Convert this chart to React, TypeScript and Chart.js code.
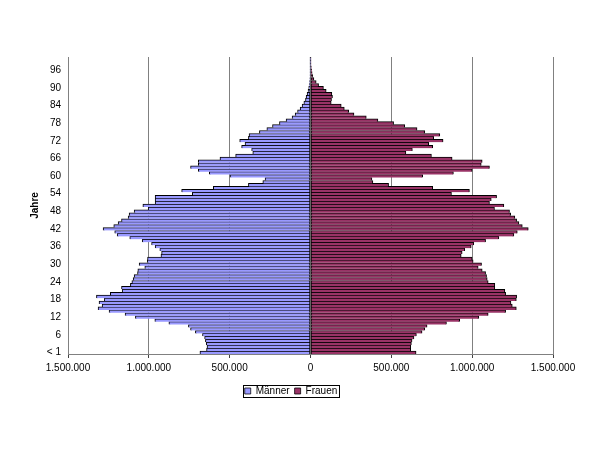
import React, { useEffect, useRef } from 'react';
import { Chart, registerables } from 'chart.js';

Chart.register(...registerables);

const ages: string[] = [
  '< 1', '1', '2', '3', '4', '5', '6', '7', '8', '9',
  '10', '11', '12', '13', '14', '15', '16', '17', '18', '19',
  '20', '21', '22', '23', '24', '25', '26', '27', '28', '29',
  '30', '31', '32', '33', '34', '35', '36', '37', '38', '39',
  '40', '41', '42', '43', '44', '45', '46', '47', '48', '49',
  '50', '51', '52', '53', '54', '55', '56', '57', '58', '59',
  '60', '61', '62', '63', '64', '65', '66', '67', '68', '69',
  '70', '71', '72', '73', '74', '75', '76', '77', '78', '79',
  '80', '81', '82', '83', '84', '85', '86', '87', '88', '89',
  '90', '91', '92', '93', '94', '95', '96', '97', '98', '99',
  '100',
];

const maenner: number[] = [
  684000, 643000, 640000, 645000, 650000, 655000, 668000, 712000, 742000, 755000,
  876000, 963000, 1083000, 1147000, 1246000, 1314000, 1289000, 1308000, 1275000, 1324000,
  1238000, 1165000, 1169000, 1114000, 1105000, 1097000, 1091000, 1070000, 1068000, 1025000,
  1060000, 1010000, 1008000, 925000, 921000, 932000, 961000, 983000, 1041000, 1118000,
  1196000, 1211000, 1283000, 1217000, 1190000, 1169000, 1128000, 1122000, 1091000, 1004000,
  1037000, 961000, 961000, 961000, 731000, 797000, 601000, 384000, 295000, 281000,
  498000, 626000, 694000, 742000, 694000, 694000, 560000, 463000, 357000, 364000,
  426000, 405000, 438000, 384000, 380000, 316000, 270000, 235000, 192000, 151000,
  114000, 95000, 80000, 64000, 52000, 41000, 31000, 27000, 21000, 15000,
  11000, 8000, 6000, 4000, 3000, 2000, 1500, 1000, 700, 500,
  500,
];

const frauen: number[] = [
  653000, 620000, 620000, 624000, 628000, 640000, 655000, 690000, 707000, 721000,
  841000, 923000, 1041000, 1099000, 1207000, 1273000, 1248000, 1240000, 1273000, 1275000,
  1207000, 1202000, 1140000, 1140000, 1099000, 1093000, 1089000, 1083000, 1062000, 1037000,
  1058000, 1006000, 1000000, 932000, 938000, 954000, 994000, 1010000, 1083000, 1165000,
  1258000, 1279000, 1347000, 1310000, 1289000, 1275000, 1264000, 1238000, 1231000, 1138000,
  1196000, 1107000, 1118000, 1151000, 872000, 983000, 756000, 483000, 386000, 380000,
  694000, 884000, 1000000, 1107000, 1056000, 1062000, 876000, 748000, 590000, 630000,
  756000, 731000, 820000, 762000, 800000, 707000, 659000, 583000, 514000, 417000,
  345000, 269000, 236000, 209000, 190000, 128000, 130000, 136000, 132000, 97000,
  80000, 50000, 35000, 21000, 14000, 10000, 7000, 5000, 3000, 2000,
  2000,
];

const seriesNames: string[] = ['Männer', 'Frauen'];
const axisTitle = 'Jahre';

function fmt(v: number): string {
  return Math.abs(v).toString().replace(/\B(?=(\d{3})+(?!\d))/g, '.');
}

const legendBox = {
  id: 'legendBox',
  afterDraw(chart: any) {
    const lg = chart.legend;
    if (!lg || !lg.legendHitBoxes || !lg.legendHitBoxes.length) return;
    let l = Infinity, r = -Infinity, t = Infinity, b = -Infinity;
    lg.legendHitBoxes.forEach((h: any) => {
      l = Math.min(l, h.left);
      r = Math.max(r, h.left + h.width);
      t = Math.min(t, h.top);
      b = Math.max(b, h.top + h.height);
    });
    const ctx = chart.ctx;
    ctx.save();
    ctx.strokeStyle = '#000';
    ctx.lineWidth = 1;
    const x0 = Math.round(l) - 2 + 0.5;
    const y0 = Math.round(t) - 1 + 0.5;
    const x1 = Math.round(r) + 2 + 0.5;
    const y1 = Math.round(b) + 1 + 0.5;
    ctx.strokeRect(x0, y0, x1 - x0, y1 - y0);
    ctx.restore();
  },
};

export default function App() {
  const ref = useRef<HTMLCanvasElement>(null);

  useEffect(() => {
    if (!ref.current) return;
    Chart.defaults.font.family = 'Arial, "Liberation Sans", sans-serif';
    const chart = new Chart(ref.current, {
      type: 'bar',
      data: {
        labels: ages,
        datasets: [
          {
            label: seriesNames[0],
            data: maenner.map((v) => -v),
            backgroundColor: '#9999FF',
            borderColor: '#000000',
            borderWidth: { top: 1, right: 1, bottom: 0, left: 1 },
            borderSkipped: false,
            barPercentage: 1,
            categoryPercentage: 1,
          },
          {
            label: seriesNames[1],
            data: frauen,
            backgroundColor: '#993366',
            borderColor: '#000000',
            borderWidth: { top: 1, right: 1, bottom: 0, left: 1 },
            borderSkipped: false,
            barPercentage: 1,
            categoryPercentage: 1,
          },
        ],
      },
      plugins: [legendBox],
      options: {
        indexAxis: 'y',
        responsive: false,
        maintainAspectRatio: false,
        animation: false,
        layout: { padding: { top: 57, right: 47, bottom: 44, left: 29 } },
        plugins: {
          tooltip: { enabled: false },
          legend: {
            position: 'bottom',
            labels: {
              boxWidth: 6,
              boxHeight: 6,
              padding: 5,
              font: { size: 10 },
              color: '#000',
            },
          },
        },
        scales: {
          x: {
            stacked: true,
            min: -1500000,
            max: 1500000,
            ticks: {
              stepSize: 500000,
              callback: (v: any) => fmt(Number(v)),
              font: { size: 10 },
              color: '#000',
              padding: 4,
              maxRotation: 0,
            },
            grid: { color: '#808080', lineWidth: 1, drawTicks: true, tickLength: 4, tickColor: '#404040' },
            border: { display: true, color: '#808080' },
            afterFit: (s: any) => {
              s.height = s.height + 3;
            },
          },
          y: {
            stacked: true,
            reverse: true,
            grid: { display: false, drawTicks: false },
            border: { display: false },
            ticks: {
              autoSkip: false,
              padding: 7,
              font: { size: 10 },
              color: '#000',
              callback: (v: any) => {
                const i = Number(v);
                return i % 6 === 0 ? ages[i] : '';
              },
            },
            title: {
              display: true,
              text: axisTitle,
              font: { size: 10, weight: 'bold' },
              color: '#000',
              padding: { top: 0, bottom: 0 },
            },
            afterFit: (s: any) => {
              s.width = 39;
            },
          },
        },
      } as any,
    });
    return () => chart.destroy();
  }, []);

  return (
    <div style={{ position: 'absolute', left: 0, top: 0, width: 600, height: 450, background: '#fff' }}>
      <canvas ref={ref} width={600} height={450} />
    </div>
  );
}
